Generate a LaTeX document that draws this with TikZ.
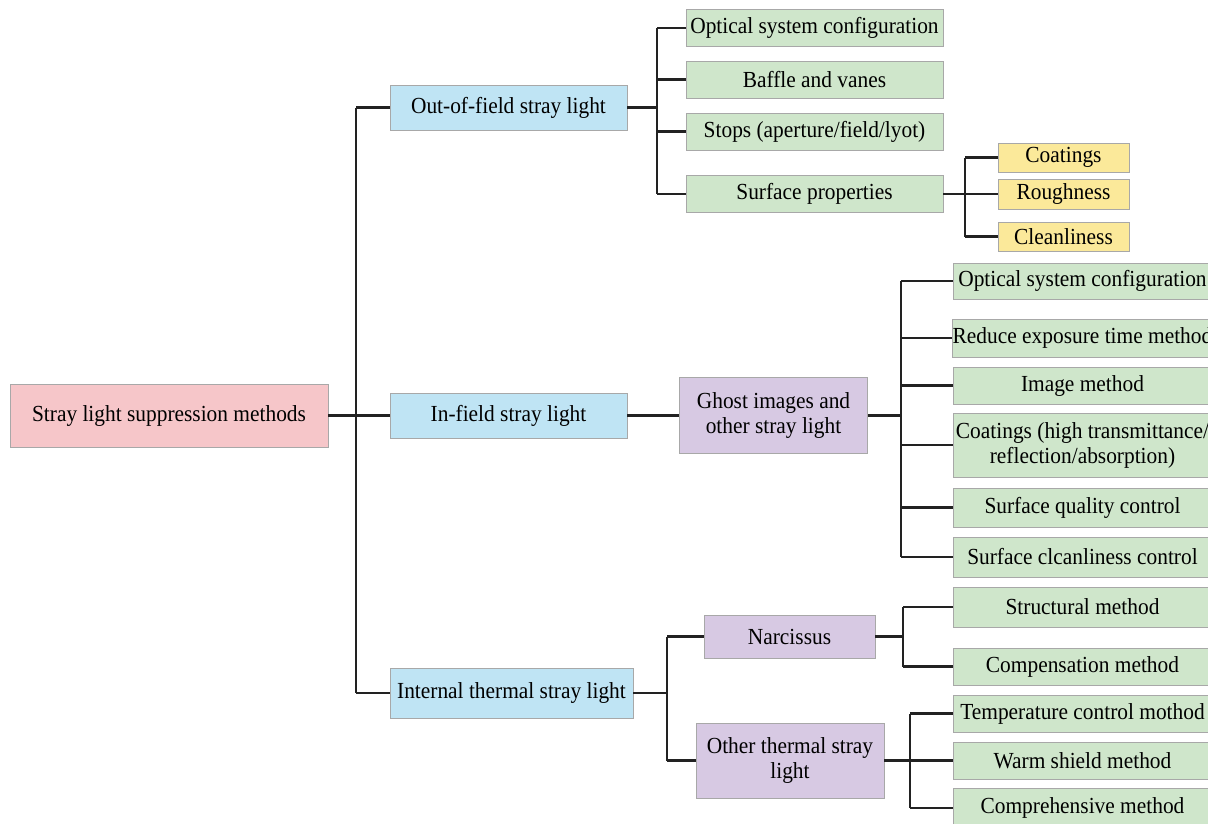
\documentclass[tikz,border=0pt]{standalone}
\usepackage{fontspec}
\setmainfont{Liberation Serif}[FakeStretch=0.93]
\definecolor{cpink}{HTML}{F6C6C9}
\definecolor{cblue}{HTML}{BFE4F4}
\definecolor{cgreen}{HTML}{CFE6CB}
\definecolor{cyellow}{HTML}{FBE99A}
\definecolor{cpurple}{HTML}{D7C9E3}
\definecolor{cborder}{HTML}{A8A8A8}
\definecolor{cline}{HTML}{222222}
\begin{document}
\begin{tikzpicture}[x=1pt,y=-1pt,
  box/.style={draw=cborder,line width=0.8pt,inner sep=0pt,align=center,
    font=\fontsize{23}{25}\selectfont,text=black},
  rootbox/.style={box,fill=cpink},
  bluebox/.style={box,fill=cblue},
  greenbox/.style={box,fill=cgreen,minimum width=257pt},
  gbox/.style={box,fill=cgreen,minimum width=259pt},
  yelbox/.style={box,fill=cyellow,minimum width=131pt},
  purbox/.style={box,fill=cpurple},
  conn/.style={draw=cline,line width=2.5pt}]
\clip (0,0) rectangle (1208,823);
\fill[white] (0,0) rectangle (1208,823);

% root and level 1
\node[rootbox,minimum width=318pt,minimum height=63pt] (root) at (169,415.5) {Stray light suppression methods};
\node[bluebox,minimum width=237pt,minimum height=45pt] (oof) at (508.5,107.5) {Out-of-field stray light};
\node[bluebox,minimum width=237pt,minimum height=45pt] (inf) at (508.5,415.5) {In-field stray light};
\node[bluebox,minimum width=243pt,minimum height=50pt] (itl) at (511.5,693) {Internal thermal stray light};

% out-of-field children
\node[greenbox,minimum height=37pt] (g1) at (814.5,28) {Optical system configuration};
\node[greenbox,minimum height=37pt] (g2) at (814.5,79.5) {Baffle and vanes};
\node[greenbox,minimum height=37pt] (g3) at (814.5,131.5) {Stops (aperture/field/lyot)};
\node[greenbox,minimum height=37pt] (g4) at (814.5,194) {Surface properties};

% surface properties children
\node[yelbox,minimum height=29pt] (y1) at (1063.5,157.5) {Coatings};
\node[yelbox,minimum height=30pt] (y2) at (1063.5,194) {Roughness};
\node[yelbox,minimum height=29pt] (y3) at (1063.5,236.5) {Cleanliness};

% in-field
\node[purbox,minimum width=188pt,minimum height=76pt] (ghost) at (773.5,415.5) {Ghost images and\\other stray light};
\node[gbox,minimum height=36pt] (h1) at (1082.5,281) {Optical system configuration};
\node[gbox,minimum height=38pt] (h2) at (1082.5,338) {Reduce exposure time method};
\node[gbox,minimum height=37pt] (h3) at (1082.5,385.5) {Image method};
\node[gbox,minimum height=64pt] (h4) at (1082.5,445) {Coatings (high transmittance/\\reflection/absorption)};
\node[gbox,minimum height=39pt] (h5) at (1082.5,507.5) {Surface quality control};
\node[gbox,minimum height=40pt] (h6) at (1082.5,557) {Surface clcanliness control};

% internal thermal
\node[purbox,minimum width=171pt,minimum height=43pt] (narc) at (789.5,636.5) {Narcissus};
\node[purbox,minimum width=188pt,minimum height=75pt] (oth) at (790,760.5) {Other thermal stray\\light};
\node[gbox,minimum height=40pt] (s1) at (1082.5,607) {Structural method};
\node[gbox,minimum height=37pt] (s2) at (1082.5,666.5) {Compensation method};
\node[gbox,minimum height=37pt] (t1) at (1082.5,713.5) {Temperature control mothod};
\node[gbox,minimum height=37pt] (t2) at (1082.5,760.5) {Warm shield method};
\node[gbox,minimum height=39pt] (t3) at (1082.5,808) {Comprehensive method};

% bracket coordinates
\coordinate (b0) at (356,0);
\coordinate (b1) at (657,0);
\coordinate (b2) at (965,0);
\coordinate (b3) at (901,0);
\coordinate (b4) at (667,0);
\coordinate (b5) at (903,0);
\coordinate (b6) at (910,0);

% connectors
\draw[conn] (root.east) -- (inf.west);
\draw[conn] (b0 |- oof.west) -- (oof.west);
\draw[conn] (b0 |- itl.west) -- (itl.west);
\draw[conn] (b0 |- oof.west) -- (b0 |- itl.west);

\draw[conn] (oof.east) -- (b1 |- oof.east);
\draw[conn] (b1 |- g1.west) -- (b1 |- g4.west);
\foreach \n in {g1,g2,g3,g4} \draw[conn] (b1 |- \n.west) -- (\n.west);

\draw[conn] (g4.east) -- (y2.west);
\draw[conn] (b2 |- y1.west) -- (b2 |- y3.west);
\foreach \n in {y1,y3} \draw[conn] (b2 |- \n.west) -- (\n.west);

\draw[conn] (inf.east) -- (ghost.west);
\draw[conn] (ghost.east) -- (b3 |- ghost.east);
\draw[conn] (b3 |- h1.west) -- (b3 |- h6.west);
\foreach \n in {h1,h2,h3,h4,h5,h6} \draw[conn] (b3 |- \n.west) -- (\n.west);

\draw[conn] (itl.east) -- (b4 |- itl.east);
\draw[conn] (b4 |- narc.west) -- (b4 |- oth.west);
\foreach \n in {narc,oth} \draw[conn] (b4 |- \n.west) -- (\n.west);

\draw[conn] (narc.east) -- (b5 |- narc.east);
\draw[conn] (b5 |- s1.west) -- (b5 |- s2.west);
\foreach \n in {s1,s2} \draw[conn] (b5 |- \n.west) -- (\n.west);

\draw[conn] (oth.east) -- (t2.west);
\draw[conn] (b6 |- t1.west) -- (b6 |- t3.west);
\foreach \n in {t1,t3} \draw[conn] (b6 |- \n.west) -- (\n.west);
\end{tikzpicture}
\end{document}
